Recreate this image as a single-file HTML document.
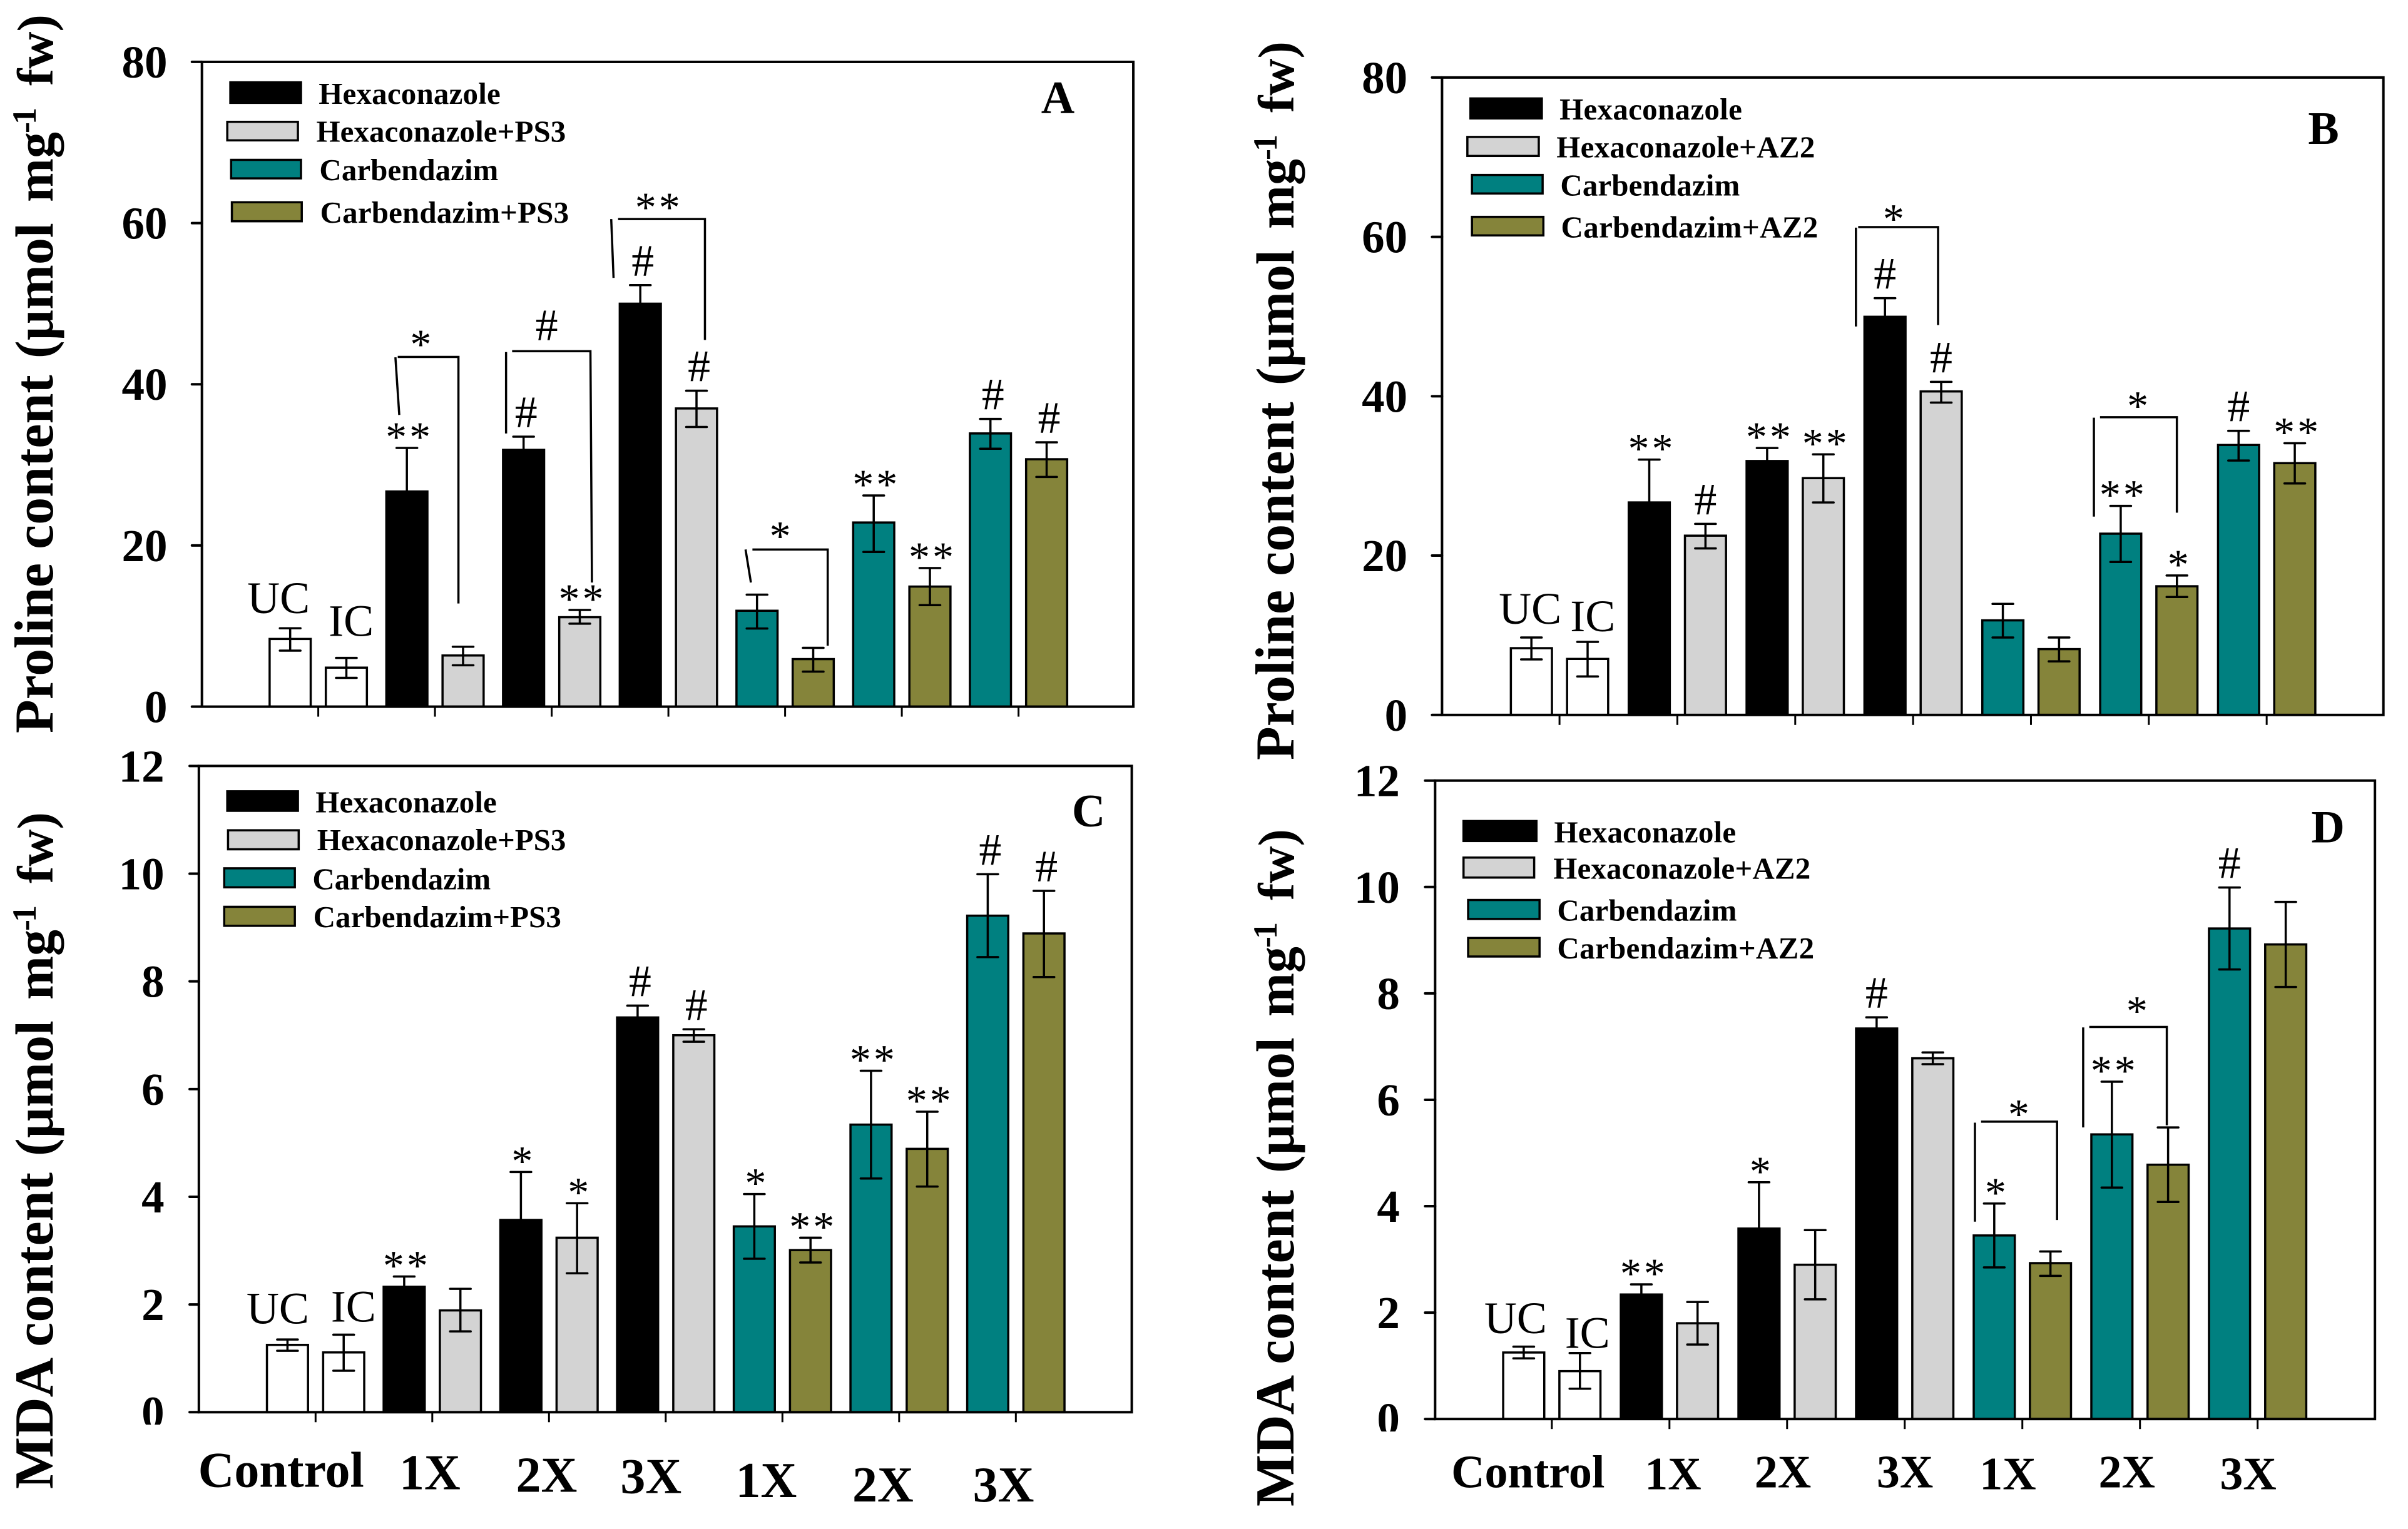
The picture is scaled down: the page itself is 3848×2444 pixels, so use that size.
<!DOCTYPE html>
<html lang="en">
<head>
<meta charset="utf-8">
<title>Proline and MDA content bar charts</title>
<style>
html,body{margin:0;padding:0;background:#fff;}
svg{display:block;}
text{font-family:"Liberation Serif",serif;fill:#000;white-space:pre;}
</style>
</head>
<body>
<svg id="figure" xmlns="http://www.w3.org/2000/svg" width="3848" height="2444" viewBox="0 0 3848 2444">
<rect x="0" y="0" width="3848" height="2444" fill="#ffffff"/>
</svg>
<script>
/* ---------- chart data ---------- */
const barLabels = ['UC','IC','Hex 1X','Hex+Bio 1X','Hex 2X','Hex+Bio 2X','Hex 3X','Hex+Bio 3X','Carb 1X','Carb+Bio 1X','Carb 2X','Carb+Bio 2X','Carb 3X','Carb+Bio 3X'];
const xCategories = ['Control','1X','2X','3X','1X','2X','3X'];

const panelATicks = [0,20,40,60,80];
const panelAValues = [8.4,4.84,26.7,6.35,31.86,11.1,50,37,11.9,5.9,22.85,14.9,33.9,30.7];
const panelAHigh = [9.73,6.05,32.1,7.44,33.5,12,52.3,39.2,13.9,7.3,26.2,17.2,35.7,32.8];
const panelALow = [6.95,3.57,21.3,5.14,30.2,10.3,47.7,34.7,9.7,4.35,19.2,12.6,32,28.5];
const panelASig = ['','','**','','#','**','#','#','','','**','**','#','#'];
const panelABrackets = [
  [[0.694,36.2],[0.661,43.35]],[[0.681,43.4],[1.201,43.4],[1.201,12.8]],
  [[1.609,33.9],[1.609,44.0]],[[1.661,44.1],[2.332,44.1],[2.345,15.4]],
  [[2.53,53.2],[2.51,60.5]],[[2.569,60.5],[3.313,60.5],[3.313,45.5]],
  [[3.707,15.4],[3.661,19.5]],[[3.72,19.5],[4.365,19.5],[4.365,7.56]]
];
const panelABracketMarks = [['*',0.878,45.6],['#',1.957,47.3],['**',2.918,62.6],['*',3.957,21.8]];

const panelBTicks = [0,20,40,60,80];
const panelBValues = [8.38,7.03,26.67,22.5,31.87,29.72,49.97,40.6,11.87,8.26,22.75,16.15,33.88,31.6];
const panelBHigh = [9.72,9.17,32.05,23.98,33.5,32.7,52.3,41.8,13.94,9.72,26.24,17.5,35.66,34.1];
const panelBLow = [6.97,4.83,21.3,20.9,30.2,26.67,47.6,39.2,9.72,6.73,19.2,14.8,31.93,29.05];
const panelBSig = ['','','**','#','**','**','#','#','','','**','*','#','**'];
const panelBBrackets = [
  [[2.515,48.75],[2.515,61.16]],[[2.534,61.22],[3.212,61.22],[3.212,48.93]],
  [[4.534,24.89],[4.534,37.31]],[[4.586,37.37],[5.238,37.37],[5.238,25.38]]
];
const panelBBracketMarks = [['*',2.834,62.9],['*',4.906,39.45]];

const panelCTicks = [0,2,4,6,8,10,12];
const panelCValues = [1.25,1.11,2.33,1.89,3.57,3.24,7.33,7.0,3.45,3.01,5.34,4.89,9.22,8.89];
const panelCHigh = [1.35,1.44,2.52,2.29,4.46,3.88,7.55,7.11,4.05,3.24,6.34,5.58,9.99,9.68];
const panelCLow = [1.14,0.77,2.14,1.5,2.68,2.58,7.11,6.88,2.85,2.78,4.34,4.19,8.45,8.08];
const panelCSig = ['','','**','','*','*','#','#','*','**','**','**','#','#'];
const panelCBrackets = [];
const panelCBracketMarks = [];

const panelDTicks = [0,2,4,6,8,10,12];
const panelDValues = [1.25,0.9,2.34,1.8,3.58,2.9,7.34,6.78,3.45,2.93,5.35,4.78,9.22,8.92];
const panelDHigh = [1.36,1.24,2.53,2.2,4.45,3.55,7.55,6.89,4.05,3.15,6.34,5.48,9.99,9.72];
const panelDLow = [1.14,0.57,2.15,1.4,2.71,2.25,7.13,6.67,2.85,2.69,4.35,4.08,8.45,8.12];
const panelDSig = ['','','**','','*','','#','','*','','**','','#',''];
const panelDBrackets = [
  [[3.597,3.71],[3.597,5.57]],[[3.649,5.59],[4.295,5.59],[4.295,3.74]],
  [[4.517,5.48],[4.517,7.36]],[[4.569,7.37],[5.228,7.37],[5.228,5.52]]
];
const panelDBracketMarks = [['*',3.969,5.83],['*',4.974,7.77]];

/* ---------- layout ---------- */
const NS = 'http://www.w3.org/2000/svg';
const root = document.getElementById('figure');
const sx = 1.227, sy = 0.779;            /* layout units to page pixels */
const barFills = ['#ffffff','#ffffff','#000000','#d3d3d3','#000000','#d3d3d3','#000000','#d3d3d3','#008080','#85843a','#008080','#85843a','#008080','#85843a'];
const legendFills = ['#000000','#d3d3d3','#008080','#85843a'];

function make(tag, attrs, parent) {
  const n = document.createElementNS(NS, tag);
  for (const k in attrs) n.setAttribute(k, attrs[k]);
  parent.appendChild(n);
  return n;
}
function fit(node, target) {
  const len = node.getComputedTextLength();
  node.setAttribute('letter-spacing', ((target - len) / node.getNumberOfChars()).toFixed(3));
}
function drawPanel(p) {
  const X = z => p.ox + z * sx;
  const Y = z => p.oy + z * sy;
  const yMax = p.ticks[p.ticks.length - 1];
  const xAxis = g => X(p.x0 + g * p.step);
  const yAxis = v => Y(p.b - v / yMax * (p.b - p.t));
  const barW = 53.5 * sx, pairOff = 36.6 * sx, capW = 16.5;

  const g = make('g', {}, root);
  
  

  /* bars and error bars */
  p.values.forEach((v, i) => {
    const cx = xAxis(Math.floor(i / 2)) + (i % 2 ? pairOff : -pairOff);
    const bar = make('rect', {x: cx - barW / 2, y: yAxis(v), width: barW, height: yAxis(0) - yAxis(v), fill: barFills[i], stroke: '#000', 'stroke-width': 3.5}, g);
    
    
    const err = make('path', {d: 'M' + cx + ' ' + yAxis(p.high[i]) + 'V' + yAxis(p.low[i]) + 'M' + (cx - capW) + ' ' + yAxis(p.high[i]) + 'H' + (cx + capW) + 'M' + (cx - capW) + ' ' + yAxis(p.low[i]) + 'H' + (cx + capW), fill: 'none', stroke: '#000', 'stroke-width': 3.5, 'stroke-linecap': 'round'}, g);
    
    
    const s = p.sig[i];
    if (s) {
      const isHash = s === '#';
      const t = make('text', {x: cx + (isHash ? p.hashDx : 4), y: yAxis(p.high[i]) + (isHash ? -15 : 5), 'text-anchor': 'middle', 'font-size': isHash ? 72 : 68, 'letter-spacing': isHash ? 0 : 4}, g);
      t.textContent = s;
      
      
    }
  });

  /* frame */
  const frame = make('rect', {x: X(p.l), y: Y(p.t), width: X(p.r) - X(p.l), height: Y(p.b) - Y(p.t), fill: 'none', stroke: '#000', 'stroke-width': 4}, g);
  
  

  /* y ticks */
  p.ticks.forEach(v => {
    const tick = make('line', {x1: X(p.tickL), x2: X(p.l), y1: yAxis(v), y2: yAxis(v), stroke: '#000', 'stroke-width': 4, 'stroke-linecap': 'round'}, g);
    
    
    const lab = make('text', {x: X(p.yLabelR), y: yAxis(v) + 25, 'text-anchor': 'end', 'font-size': 73, 'font-weight': 'bold'}, g);
    lab.textContent = String(v);
    
    
  });
  if (p.clipZero) {
    const mask = make('rect', {x: X(p.yLabelR) - 45, y: yAxis(0) + 20, width: 48, height: 10, fill: '#ffffff'}, g);
    
    
  }

  /* x ticks and labels */
  xCategories.forEach((c, i) => {
    const tick = make('line', {x1: xAxis(i), x2: xAxis(i), y1: yAxis(0), y2: yAxis(0) + 16, stroke: '#000', 'stroke-width': 3}, g);
    
    
    if (p.catLayout) {
      const lab = make('text', {x: X(p.catLayout[i][0]), y: Y(p.catLayout[i][1]), 'font-size': p.catSize, 'font-weight': 'bold'}, g);
      lab.textContent = c;
      
      
    }
  });

  /* brackets */
  p.brackets.forEach(pts => {
    const br = make('polyline', {points: pts.map(q => xAxis(q[0]) + ',' + yAxis(q[1])).join(' '), fill: 'none', stroke: '#000', 'stroke-width': 3.5}, g);
    
    
  });
  p.bracketMarks.forEach(m => {
    const hash = m[0] === '#';
    const t = make('text', {x: xAxis(m[1]), y: yAxis(m[2]) + (hash ? 24 : 31), 'text-anchor': 'middle', 'font-size': hash ? 72 : 68, 'letter-spacing': m[0] === '**' ? 4 : 0}, g);
    t.textContent = m[0];
    
    
  });

  /* legend */
  p.legend.forEach((row, i) => {
    const sw = make('rect', {x: X(row[1]), y: Y(row[3]), width: X(row[2]) - X(row[1]), height: Y(row[4]) - Y(row[3]), fill: legendFills[i], stroke: '#000', 'stroke-width': 3.5}, g);
    
    
    const t = make('text', {x: X(row[5]), y: Y(row[7]), 'font-size': 49, 'font-weight': 'bold'}, g);
    t.textContent = row[0];
    
    
    fit(t, X(row[6]) - X(row[5]));
  });

  /* panel letter */
  const letter = make('text', {x: X(p.letter[0]), y: Y(p.letter[1]), 'font-size': 74, 'font-weight': 'bold'}, g);
  letter.textContent = p.id.toUpperCase();
  
  

  /* control annotations */
  const uc = make('text', {x: X(p.uc[0]), y: Y(p.uc[1]), 'font-size': 72}, g);
  uc.textContent = 'UC';
  
  
  const ic = make('text', {x: X(p.ic[0]), y: Y(p.ic[1]), 'font-size': 72}, g);
  ic.textContent = 'IC';
  
  

  /* y axis title: the words sit at their own offsets along the rotated axis */
  const tt = p.title;
  const title = make('text', {transform: 'translate(' + tt.x + ',' + tt.y0 + ') rotate(-90)', 'font-size': 88, 'font-weight': 'bold'}, g);
  
  
  const t1 = make('tspan', {x: 0}, title);
  t1.textContent = tt.text;
  const t2 = make('tspan', {x: tt.y0 - tt.parenY, 'font-size': 86}, title);
  t2.textContent = '(\u00b5mol';
  const t3 = make('tspan', {x: tt.y0 - tt.parenY + 250, 'font-size': 84}, title);
  t3.textContent = 'mg';
  const t4 = make('tspan', {x: tt.y0 - tt.parenY + 360, dy: -27, 'font-size': 54, 'letter-spacing': -4}, title);
  t4.textContent = '-1';
  const t5 = make('tspan', {x: tt.y0 - tt.parenY + 436, dy: 27, 'font-size': 82}, title);
  t5.textContent = 'fw)';
}

drawPanel({id:'a', ox:0, oy:0, l:263, r:1476, t:127, b:1450, tickL:250, x0:414.5, step:152, yLabelR:218, hashDx:4,
  ticks:panelATicks, values:panelAValues, high:panelAHigh, low:panelALow, sig:panelASig, brackets:panelABrackets, bracketMarks:panelABracketMarks,
  legend:[['Hexaconazole',300,392,169,211,415,652,213],['Hexaconazole+PS3',296,388,250,288,412,737,291],['Carbendazim',301,392,328,366,416,649,370],['Carbendazim+PS3',302,393,415,454,417,741,457]],
  letter:[1356,232], uc:[322,1258], ic:[428,1305],
  title:{text:'Proline content', x:84, y0:1172, parenY:573}});

drawPanel({id:'b', ox:1924, oy:0, l:310, r:1536, t:159, b:1467, tickL:297, x0:463, step:153.5, yLabelR:265, hashDx:0,
  ticks:panelBTicks, values:panelBValues, high:panelBHigh, low:panelBLow, sig:panelBSig, brackets:panelBBrackets, bracketMarks:panelBBracketMarks,
  legend:[['Hexaconazole',347,440,202,243,463,701,245],['Hexaconazole+AZ2',343,436,281,320,459,796,323],['Carbendazim',349,441,359,397,464,698,401],['Carbendazim+AZ2',349,442,445,483,465,800,487]],
  letter:[1438,295], uc:[384,1280], ic:[477,1295],
  title:{text:'Proline content', x:2067, y0:1215, parenY:616}});

drawPanel({id:'c', ox:0, oy:1222, l:259, r:1474, t:3, b:1329, tickL:247, x0:411, step:152, yLabelR:214, hashDx:4, clipZero:true,
  ticks:panelCTicks, values:panelCValues, high:panelCHigh, low:panelCLow, sig:panelCSig, brackets:panelCBrackets, bracketMarks:panelCBracketMarks,
  legend:[['Hexaconazole',296,388,55,95,411,647,98],['Hexaconazole+PS3',297,389,135,174,413,737,176],['Carbendazim',292,384,213,252,407,639,256],['Carbendazim+PS3',292,384,292,331,408,731,334]],
  letter:[1396,127], uc:[321,1147], ic:[431,1143],
  catSize:80, catLayout:[[258,1482],[520,1487],[672,1492],[808,1495],[958,1503],[1110,1512],[1267,1512]],
  title:{text:'MDA content', x:84, y0:2380, parenY:1848}});

drawPanel({id:'d', ox:1924, oy:1222, l:301, r:1525, t:33, b:1343, tickL:288, x0:453, step:153.2, yLabelR:255, hashDx:0, clipZero:true,
  ticks:panelDTicks, values:panelDValues, high:panelDHigh, low:panelDLow, sig:panelDSig, brackets:panelDBrackets, bracketMarks:panelDBracketMarks,
  legend:[['Hexaconazole',338,433,116,157,456,693,160],['Hexaconazole+AZ2',338,430,191,232,455,790,234],['Carbendazim',344,437,278,317,460,694,320],['Carbendazim+AZ2',344,437,356,394,460,795,398]],
  letter:[1442,160], uc:[365,1167], ic:[470,1197],
  catSize:74, catLayout:[[322,1483],[574,1487],[717,1483],[876,1483],[1010,1487],[1165,1483],[1323,1487]],
  title:{text:'MDA content', x:2067, y0:2408, parenY:1875}});
</script>
</body>
</html>
